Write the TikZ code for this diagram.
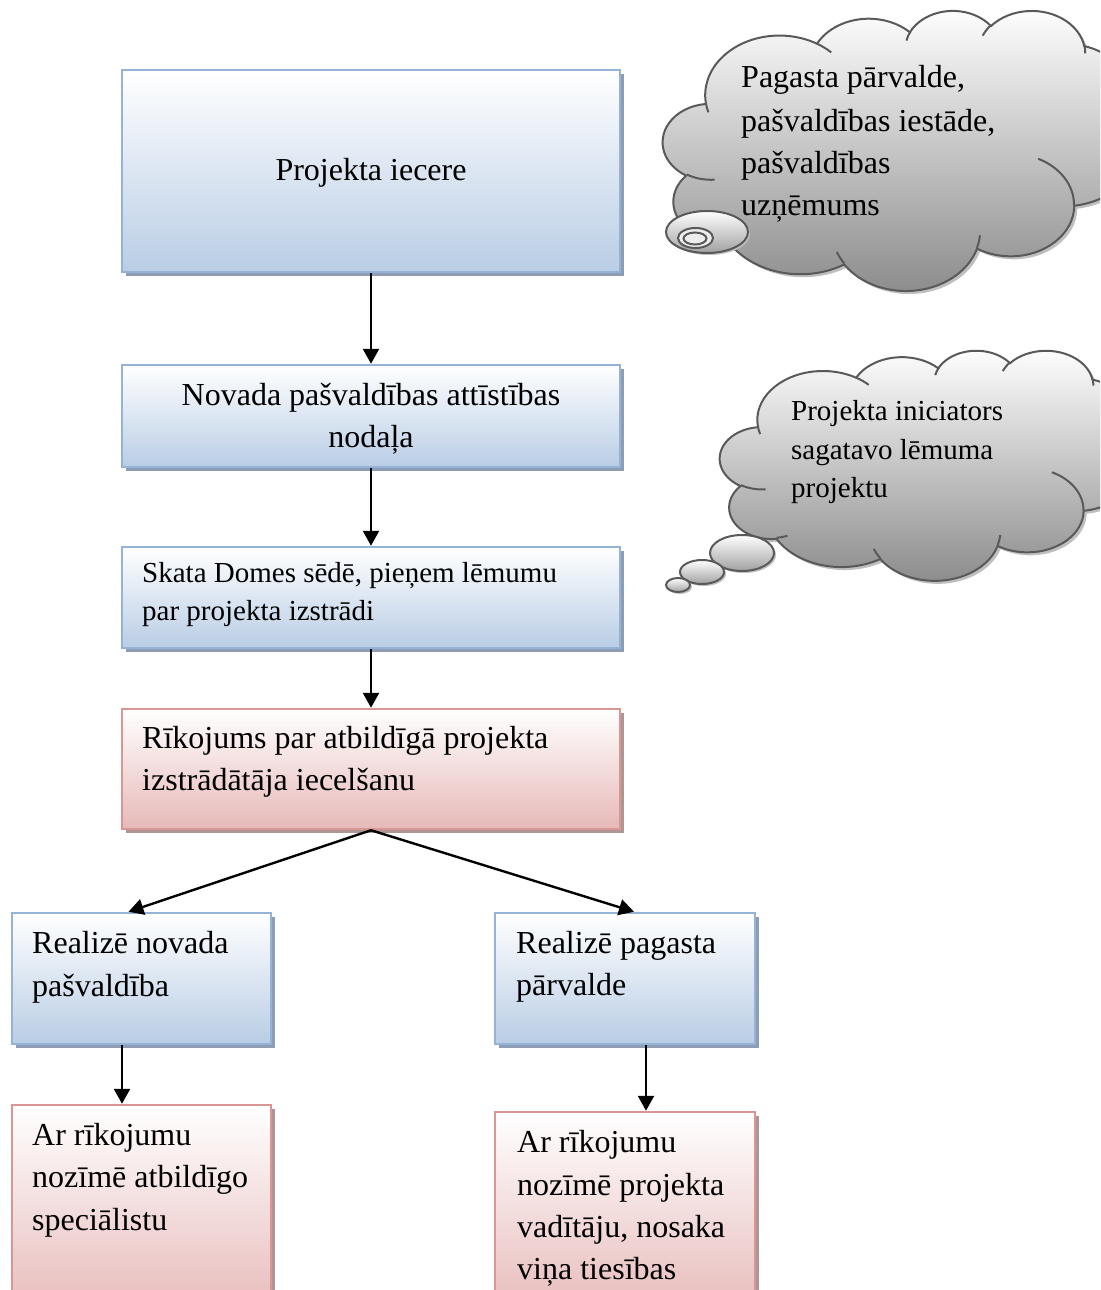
\documentclass[tikz,border=0pt]{standalone}
\usepackage{fontspec}
\setmainfont{Liberation Serif}
\usetikzlibrary{shapes.geometric,shadows,arrows.meta}
\definecolor{bluebd}{HTML}{95B3D7}
\definecolor{bluebot}{HTML}{B9CDE5}
\definecolor{blueshd}{HTML}{8D9DB3}
\definecolor{pinkbd}{HTML}{D99694}
\definecolor{pinkbot}{HTML}{E6B9B8}
\definecolor{pinkshd}{HTML}{AE9695}
\definecolor{cloudbd}{HTML}{595959}
\definecolor{cloudbot}{HTML}{8A8A8A}
\definecolor{cloudshd}{HTML}{BFBFBF}
\newcommand{\fbig}{\fontsize{32}{42}\selectfont}
\newcommand{\fsmall}{\fontsize{29}{38}\selectfont}
% outline of a thought cloud in a 432 x 432 box (y downwards)
\newcommand{\cloudshape}[1]{\path[#1] (39,143.7)
 arc[start angle=-187.74, end angle=-59.64, x radius=67.53, y radius=91.90]
 arc[start angle=-152.03, end angle=-45.46, x radius=53.33, y radius=72.67]
 arc[start angle=-153.49, end angle=-37.33, x radius=43.65, y radius=59.45]
 arc[start angle=-139.72, end angle=-10.21, x radius=48.57, y radius=65.95]
 arc[start angle=-74.77, end angle=23.21, x radius=53.33, y radius=72.73]
 arc[start angle=-37.53, end angle=81.86, x radius=67.75, y radius=92.20]
 arc[start angle=0.46, end angle=121.98, x radius=57.85, y radius=78.67]
 arc[start angle=16.84, end angle=146.23, x radius=67.52, y radius=92.15]
 arc[start angle=58.98, end angle=150.19, x radius=77.20, y radius=105.43]
 arc[start angle=-276.69, end angle=-136.90, x radius=43.60, y radius=59.18]
 arc[start angle=-239.65, end angle=-95.89, x radius=43.45, y radius=59.45]
 -- cycle;}
\newcommand{\cloudlines}[1]{\path[#1]
 (46.93,261.77) arc[start angle=85.55, end angle=120.35, x radius=43.45, y radius=59.45]
 (69.28,348.99) arc[start angle=68.23, end angle=83.31, x radius=43.60, y radius=59.18]
 (164.78,390.90) arc[start angle=146.24, end angle=158.47, x radius=67.52, y radius=92.15]
 (288.27,347.51) arc[start angle=4.74, end angle=16.84, x radius=67.52, y radius=92.15]
 (341.29,229.54) arc[start angle=-64.03, end angle=0.46, x radius=57.85, y radius=78.67]
 (417.98,153.54) arc[start angle=23.21, end angle=49.64, x radius=53.33, y radius=72.73]
 (383.24,54.26) arc[start angle=-10.21, end angle=0.82, x radius=48.57, y radius=65.95]
 (290.78,39.52) arc[start angle=-156.29, end angle=-139.72, x radius=48.57, y radius=65.95]
 (221.41,47.20) arc[start angle=-167.73, end angle=-153.49, x radius=43.65, y radius=59.45]
 (140.00,51.92) arc[start angle=-59.64, end angle=-45.74, x radius=67.53, y radius=91.90]
 (41.27,157.89) arc[start angle=163.19, end angle=172.26, x radius=67.53, y radius=91.90];}
\begin{document}
\begin{tikzpicture}[x=1pt,y=-1pt,
  bluebox/.style={rectangle, draw=bluebd, line width=2.5pt, top color=white, bottom color=bluebot,
    drop shadow={shadow xshift=4pt,shadow yshift=-4pt,fill=blueshd,opacity=1}, inner sep=0pt},
  pinkbox/.style={rectangle, draw=pinkbd, line width=2.5pt, top color=white, bottom color=pinkbot,
    drop shadow={shadow xshift=4pt,shadow yshift=-4pt,fill=pinkshd,opacity=1}, inner sep=0pt},
  cloudfill/.style={draw=cloudbd, line width=2pt, top color=white, bottom color=cloudbot},
  cloudshadow/.style={fill=cloudshd, shift={(3pt,-3pt)}},
  cloudarc/.style={draw=cloudbd, line width=2pt},
  bubble/.style={ellipse, draw=cloudbd, line width=2pt, top color=white, bottom color=cloudbot!80, inner sep=0pt,
    drop shadow={shadow xshift=2pt,shadow yshift=-2pt,fill=cloudshd,opacity=1}},
  ring/.style={ellipse, draw=cloudbd, line width=2pt, fill=white!85!cloudbot, inner sep=0pt},
  arr/.style={-{Triangle[length=15pt,width=16pt]}, line width=2.4pt, black},
  tl/.style={anchor=base west, inner sep=0pt, font=\fbig},
  tc/.style={anchor=base, inner sep=0pt, font=\fbig},
  ts/.style={anchor=base west, inner sep=0pt, font=\fsmall}]
\useasboundingbox (0,0) rectangle (1100,1290);
\clip (0,0) rectangle (1100,1290);

% thought cloud 1
\begin{scope}[shift={(663,10)}, x=1.0995pt, y=-0.64815pt]
  \cloudshape{cloudshadow}
  \cloudshape{cloudfill}
  \cloudlines{cloudarc}
\end{scope}
\node[bubble, minimum width=82pt, minimum height=42pt] (c1b) at (707,232) {};
\node[ring, minimum width=35pt, minimum height=20pt] (c1r1) at (695.5,238) {};
\node[ring, minimum width=23pt, minimum height=12pt] (c1r2) at (695,238.5) {};
\node[tl] (c1t1) at (741,88) {Pagasta pārvalde,};
\node[tl] (c1t2) at (741,131) {pašvaldības iestāde,};
\node[tl] (c1t3) at (741,173) {pašvaldības};
\node[tl] (c1t4) at (741,215) {uzņēmums};

% thought cloud 2
\begin{scope}[shift={(720,350)}, x=0.97222pt, y=-0.53241pt]
  \cloudshape{cloudshadow}
  \cloudshape{cloudfill}
  \cloudlines{cloudarc}
\end{scope}
\node[bubble, minimum width=64pt, minimum height=36pt] (c2b1) at (742,553) {};
\node[bubble, minimum width=44pt, minimum height=24pt] (c2b2) at (702,572) {};
\node[bubble, minimum width=24pt, minimum height=14pt] (c2b3) at (678,585) {};
\node[ts] (c2t1) at (791,420) {Projekta iniciators};
\node[ts] (c2t2) at (791,459) {sagatavo lēmuma};
\node[ts] (c2t3) at (791,497) {projektu};

% boxes
\node[bluebox, minimum width=498pt, minimum height=202pt] (b1) at (371,171) {};
\node[bluebox, minimum width=498pt, minimum height=102pt] (b2) at (371,416) {};
\node[bluebox, minimum width=498pt, minimum height=101pt] (b3) at (371,597.5) {};
\node[pinkbox, minimum width=498pt, minimum height=120pt] (b4) at (371,769) {};
\node[bluebox, minimum width=259pt, minimum height=131pt] (b5) at (141.5,978.5) {};
\node[bluebox, minimum width=260pt, minimum height=131pt] (b6) at (625,978.5) {};
\node[pinkbox, minimum width=259pt, minimum height=215pt] (b7) at (141.5,1212.5) {};
\node[pinkbox, minimum width=260pt, minimum height=208pt] (b8) at (625,1216) {};

% texts
\node[tc] (t1) at (371,180) {Projekta iecere};
\node[tc] (t2a) at (371,405) {Novada pašvaldības attīstības};
\node[tc] (t2b) at (371,447) {nodaļa};
\node[ts] (t3a) at (142,582) {Skata Domes sēdē, pieņem lēmumu};
\node[ts] (t3b) at (142,620) {par projekta izstrādi};
\node[tl] (t4a) at (142,748) {Rīkojums par atbildīgā projekta};
\node[tl] (t4b) at (142,790) {izstrādātāja iecelšanu};
\node[tl] (t5a) at (32,953) {Realizē novada};
\node[tl] (t5b) at (32,996) {pašvaldība};
\node[tl] (t6a) at (516,953) {Realizē pagasta};
\node[tl] (t6b) at (516,995) {pārvalde};
\node[tl] (t7a) at (32,1145) {Ar rīkojumu};
\node[tl] (t7b) at (32,1187) {nozīmē atbildīgo};
\node[tl] (t7c) at (32,1230) {speciālistu};
\node[tl] (t8a) at (517,1152) {Ar rīkojumu};
\node[tl] (t8b) at (517,1195) {nozīmē projekta};
\node[tl] (t8c) at (517,1237) {vadītāju, nosaka};
\node[tl] (t8d) at (517,1279) {viņa tiesības};

% connectors
\draw[arr] (b1.south) -- (b2.north);
\draw[arr] (b2.south) -- (b3.north);
\draw[arr] (b3.south) -- (b4.north);
\draw[arr] (b4.south) -- ([xshift=-13pt]b5.north);
\draw[arr] (b4.south) -- ([xshift=9pt]b6.north);
\draw[arr] ([xshift=-19.5pt]b5.south) -- ([xshift=-19.5pt]b7.north);
\draw[arr] ([xshift=21pt]b6.south) -- ([xshift=21pt]b8.north);
\end{tikzpicture}
\end{document}
